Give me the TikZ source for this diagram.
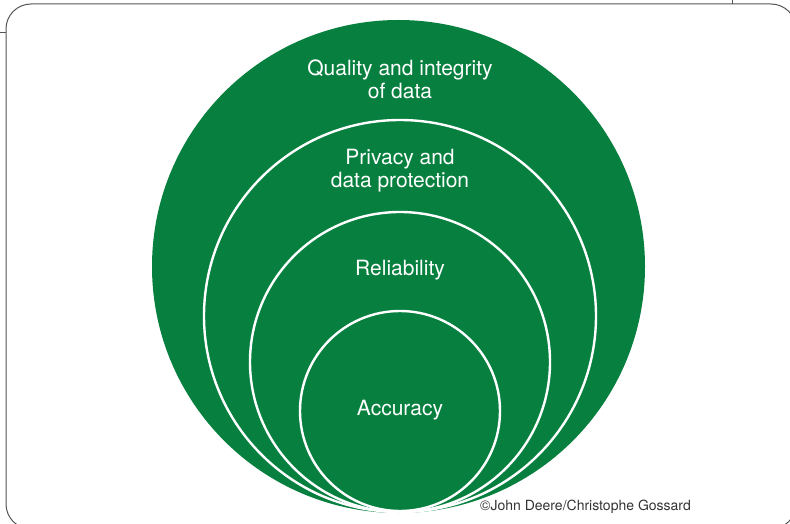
\documentclass[tikz,border=0pt]{standalone}
\usepackage{fontspec}
\setmainfont{TeX Gyre Heros}
\definecolor{ringgreen}{HTML}{07803F}
\definecolor{framegray}{HTML}{555555}
\definecolor{credit}{HTML}{333333}
\begin{document}
\begin{tikzpicture}[x=1pt,y=-1pt,
  ring/.style={fill=ringgreen,draw=white,line width=2.4pt},
  lbl/.style={text=white,font=\fontsize{21}{23}\selectfont,align=center,inner sep=0pt},
  frameline/.style={draw=framegray,line width=1pt}]
\useasboundingbox (0,0) rectangle (790,524);
% frame
\draw[frameline,rounded corners=25pt] (6,4) rectangle (796,529);
\draw[frameline] (0,33) -- (6,33);
\draw[frameline] (732,0) -- (732,4);
% circles
\fill[ringgreen] (398.5,266.5) circle [radius=246.5];
\draw[ring] (400,316) circle [radius=196];
\draw[ring] (400,362) circle [radius=150];
\draw[ring] (400,411) circle [radius=100];
% labels
\node[lbl] (quality) at (400,79) {Quality and integrity\\of data};
\node[lbl] (privacy) at (400,171) {Privacy and\\data protection};
\node[lbl] (reliab) at (400,270) {Reliability};
\node[lbl] (accur) at (400,410) {Accuracy};
\node[text=credit,font=\fontsize{14}{16}\selectfont,inner sep=0pt,anchor=west] (credit) at (480,507) {©John Deere/Christophe Gossard};
\end{tikzpicture}
\end{document}
